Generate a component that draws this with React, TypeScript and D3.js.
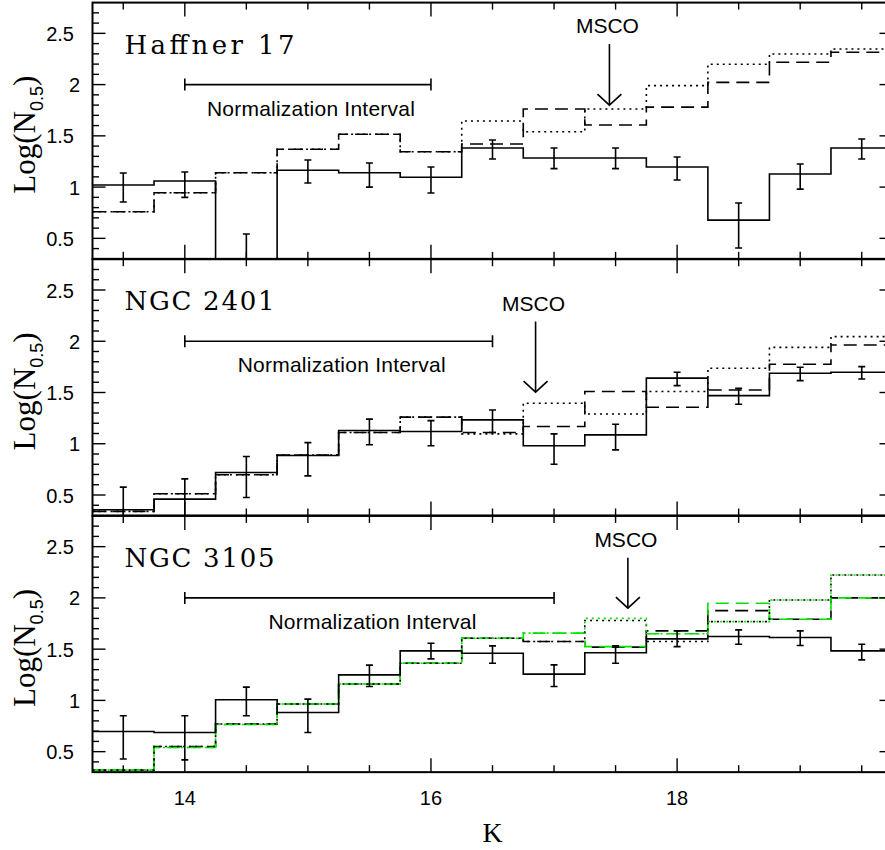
import React from "react";
import * as d3 from "d3";

// ---- data ----
const bins = [13.5, 14, 14.5, 15, 15.5, 16, 16.5, 17, 17.5, 18, 18.5, 19, 19.5];

// Haffner 17
const h17Obs = [1.02, 1.06, 0.28, 1.165, 1.14, 1.096, 1.382, 1.284, 1.284, 1.196, 0.678, 1.128, 1.382];
const h17Hi = [1.138, 1.147, 0.542, 1.264, 1.235, 1.196, 1.46, 1.382, 1.382, 1.294, 0.845, 1.225, 1.47];
const h17Lo = [0.855, 0.9, 0.0, 1.04, 1.0, 0.942, 1.274, 1.18, 1.18, 1.07, 0.406, 0.98, 1.274];
const h17Dashed = [0.76, 0.945, 1.14, 1.369, 1.515, 1.345, 1.42, 1.762, 1.606, 1.78, 2.022, 2.218, 2.315];
const h17Dotted = [0.76, 0.945, 1.14, 1.369, 1.515, 1.345, 1.645, 1.54, 1.762, 1.99, 2.198, 2.299, 2.347];

// NGC 2401
const n2401Obs = [0.356, 0.46, 0.72, 0.885, 1.129, 1.12, 1.233, 0.98, 1.087, 1.64, 1.47, 1.688, 1.698];
const n2401Hi = [0.577, 0.657, 0.875, 1.011, 1.24, 1.226, 1.33, 1.096, 1.19, 1.698, 1.54, 1.746, 1.752];
const n2401Lo = [0.1, 0.25, 0.475, 0.687, 0.99, 0.98, 1.11, 0.8, 0.94, 1.567, 1.386, 1.616, 1.632];
const n2401Dashed = [0.34, 0.512, 0.697, 0.89, 1.11, 1.26, 1.11, 1.168, 1.51, 1.356, 1.525, 1.775, 1.964];
const n2401Dotted = [0.34, 0.512, 0.697, 0.89, 1.11, 1.26, 1.096, 1.395, 1.29, 1.51, 1.736, 1.94, 2.045];

// NGC 3105
const n3105Obs = [0.697, 0.687, 1.006, 0.882, 1.249, 1.483, 1.46, 1.256, 1.465, 1.6, 1.623, 1.613, 1.483];
const n3105Hi = [0.85, 0.85, 1.13, 1.012, 1.344, 1.558, 1.532, 1.347, 1.532, 1.678, 1.688, 1.678, 1.548];
const n3105Lo = [0.428, 0.42, 0.85, 0.687, 1.135, 1.405, 1.363, 1.135, 1.363, 1.525, 1.548, 1.535, 1.395];
const n3105Dashed = [0.32, 0.55, 0.77, 0.965, 1.16, 1.363, 1.607, 1.574, 1.52, 1.678, 1.876, 1.792, 2.0];
const n3105Dotted = [0.32, 0.55, 0.77, 0.965, 1.16, 1.363, 1.607, 1.574, 1.78, 1.574, 1.769, 1.98, 2.224];
const n3105GreenDashed = [0.32, 0.54, 0.765, 0.965, 1.16, 1.363, 1.607, 1.656, 1.525, 1.65, 1.948, 1.792, 2.0];
const n3105GreenDotted = [0.32, 0.54, 0.765, 0.965, 1.16, 1.363, 1.607, 1.656, 1.8, 1.65, 1.769, 1.98, 2.224];

const panelNames = ["Haffner 17", "NGC 2401", "NGC 3105"];
const normIntervals = [[14, 16], [14, 16.5], [14, 17]];
const mscoK = [17.45, 16.85, 17.6];
const mscoTip = [1.8, 1.504, 1.9];
const mscoLabel = [2.503, 2.3, 2.5];

const xTickVals = d3.range(27, 40).map((k) => k / 2);
const xLabelVals = [14, 16, 18];
const yTickVals = d3.range(4, 28).map((k) => k / 10);
const yLabelVals = [0.5, 1, 1.5, 2, 2.5];

const GREEN = "#00e400";
const DASH = "13,7";
const DOT = "2,4";

const panels = [
  {
    obs: h17Obs, hi: h17Hi, lo: h17Lo,
    models: [
      { v: h17Dashed, color: "#000", dash: DASH, off: 0 },
      { v: h17Dotted, color: "#000", dash: DOT, off: 0 },
    ],
  },
  {
    obs: n2401Obs, hi: n2401Hi, lo: n2401Lo,
    models: [
      { v: n2401Dashed, color: "#000", dash: DASH, off: 0 },
      { v: n2401Dotted, color: "#000", dash: DOT, off: 0 },
    ],
  },
  {
    obs: n3105Obs, hi: n3105Hi, lo: n3105Lo,
    models: [
      { v: n3105Dashed, color: "#000", dash: DASH, off: 0 },
      { v: n3105GreenDashed, color: GREEN, dash: DASH, off: 3 },
      { v: n3105Dotted, color: "#000", dash: DOT, off: 0 },
      { v: n3105GreenDotted, color: GREEN, dash: DOT, off: 3 },
    ],
  },
];

const W = 885;
const H = 850;
const X0 = 92.5;
const X1 = 892.5;
const PH = 256.25;
const panelTop = (i: number) => 2.6 + i * 256.65;

const x = d3.scaleLinear().domain([13.25, 19.75]).range([X0, X1]);

const SANS = "'Liberation Sans', Arial, Helvetica, sans-serif";
const SERIF = "'Liberation Serif', 'Times New Roman', serif";
const TITLE_SERIF = "'DejaVu Serif', 'Liberation Serif', serif";

function Panel({ i }: { i: number }) {
  const p = panels[i];
  const top = panelTop(i);
  const y = d3.scaleLinear().domain([0.3, 2.8]).range([top + PH, top]);
  const stepLine = (vals: number[]) =>
    d3
      .line<[number, number]>()
      .x((d) => x(d[0]))
      .y((d) => y(d[1]))(
      bins.flatMap((c, k) => [
        [c - 0.25, vals[k]] as [number, number],
        [c + 0.25, vals[k]] as [number, number],
      ])
    ) as string;
  const clipId = `clip${i}`;
  const lw = 1.6;
  const [n0, n1] = normIntervals[i];
  const yNorm = y(2);
  const mx = x(mscoK[i]);
  const tipY = y(mscoTip[i]);
  const labY = y(mscoLabel[i]);
  return (
    <g>
      <defs>
        <clipPath id={clipId}>
          <rect x={X0} y={top} width={X1 - X0} height={PH} />
        </clipPath>
      </defs>
      <g clipPath={`url(#${clipId})`} fill="none">
        {p.models.map((m, k) => (
          <path
            key={k}
            d={stepLine(m.v)}
            stroke={m.color}
            strokeWidth={lw}
            strokeDasharray={m.dash}
            strokeDashoffset={m.off}
          />
        ))}
        <path d={stepLine(p.obs)} stroke="#000" strokeWidth={lw} />
        {bins.map((c, k) => (
          <g key={k} stroke="#000" strokeWidth={lw}>
            <line x1={x(c)} x2={x(c)} y1={y(p.hi[k])} y2={y(p.lo[k])} />
            <line x1={x(c) - 3.5} x2={x(c) + 3.5} y1={y(p.hi[k])} y2={y(p.hi[k])} />
            <line x1={x(c) - 3.5} x2={x(c) + 3.5} y1={y(p.lo[k])} y2={y(p.lo[k])} />
          </g>
        ))}
      </g>
      {/* normalization interval */}
      <g stroke="#000" strokeWidth={1.6}>
        <line x1={x(n0)} x2={x(n1)} y1={yNorm} y2={yNorm} />
        <line x1={x(n0)} x2={x(n0)} y1={yNorm - 6} y2={yNorm + 6} />
        <line x1={x(n1)} x2={x(n1)} y1={yNorm - 6} y2={yNorm + 6} />
      </g>
      <text
        x={(x(n0) + x(n1)) / 2 + 3}
        y={yNorm + 31}
        textAnchor="middle"
        fontFamily={SANS}
        fontSize={21}
        textLength={208}
        lengthAdjust="spacing"
      >
        Normalization Interval
      </text>
      {/* MSCO */}
      <text x={mx - 2} y={labY} textAnchor="middle" fontFamily={SANS} fontSize={21}>
        MSCO
      </text>
      <g stroke="#000" strokeWidth={1.6} fill="none">
        <line x1={mx} x2={mx} y1={labY + 11} y2={tipY} />
        <path d={`M${mx - 12},${tipY - 11} L${mx},${tipY} L${mx + 12},${tipY - 11}`} />
      </g>
      {/* title */}
      <text
        x={124.5}
        y={top + 51}
        fontFamily={TITLE_SERIF}
        fontSize={26}
        textLength={i === 0 ? 170 : 150}
        lengthAdjust="spacing"
      >
        {panelNames[i]}
      </text>
      {/* y label */}
      <text
        transform={`translate(35,${top + PH / 2 + 4}) rotate(-90)`}
        textAnchor="middle"
        fontFamily={SERIF}
        fontSize={31}
      >
        Log(N
        <tspan fontFamily={SANS} fontSize={18} dy={8}>
          0.5
        </tspan>
        <tspan dy={-8}>)</tspan>
      </text>
      {/* ticks */}
      <g stroke="#000" strokeWidth={1.4}>
        {yTickVals.map((v, k) => {
          const major = Math.abs(v * 2 - Math.round(v * 2)) < 1e-6;
          const len = major ? 13 : 6.5;
          return (
            <g key={k}>
              <line x1={X0} x2={X0 + len} y1={y(v)} y2={y(v)} />
              <line x1={X1} x2={X1 - len} y1={y(v)} y2={y(v)} />
            </g>
          );
        })}
        {xTickVals.map((v, k) => {
          const major = Math.abs(v / 2 - Math.round(v / 2)) < 1e-6;
          const len = major ? 14 : 7;
          return (
            <g key={k}>
              <line x1={x(v)} x2={x(v)} y1={top} y2={top + len} />
              <line x1={x(v)} x2={x(v)} y1={top + PH} y2={top + PH - len} />
            </g>
          );
        })}
      </g>
      {yLabelVals.map((v, k) => (
        <text
          key={k}
          x={Number.isInteger(v) ? 80 : 74}
          y={y(v) + 7.5}
          textAnchor="end"
          fontFamily={SANS}
          fontSize={20}
        >
          {String(v)}
        </text>
      ))}
      <rect x={X0} y={top} width={X1 - X0} height={PH} fill="none" stroke="#000" strokeWidth={2} />
    </g>
  );
}

export default function App() {
  const bottom = panelTop(2) + PH;
  return (
    <svg
      width={W}
      height={H}
      viewBox={`0 0 ${W} ${H}`}
      style={{ position: "absolute", left: 0, top: 0, background: "#fff" }}
    >
      <rect x={0} y={0} width={W} height={H} fill="#fff" />
      {[0, 1, 2].map((i) => (
        <Panel key={i} i={i} />
      ))}
      {xLabelVals.map((v, k) => (
        <text key={k} x={x(v)} y={bottom + 33} textAnchor="middle" fontFamily={SANS} fontSize={20}>
          {String(v)}
        </text>
      ))}
      <text x={(X0 + X1) / 2} y={bottom + 70} textAnchor="middle" fontFamily={SERIF} fontSize={28}>
        K
      </text>
    </svg>
  );
}
